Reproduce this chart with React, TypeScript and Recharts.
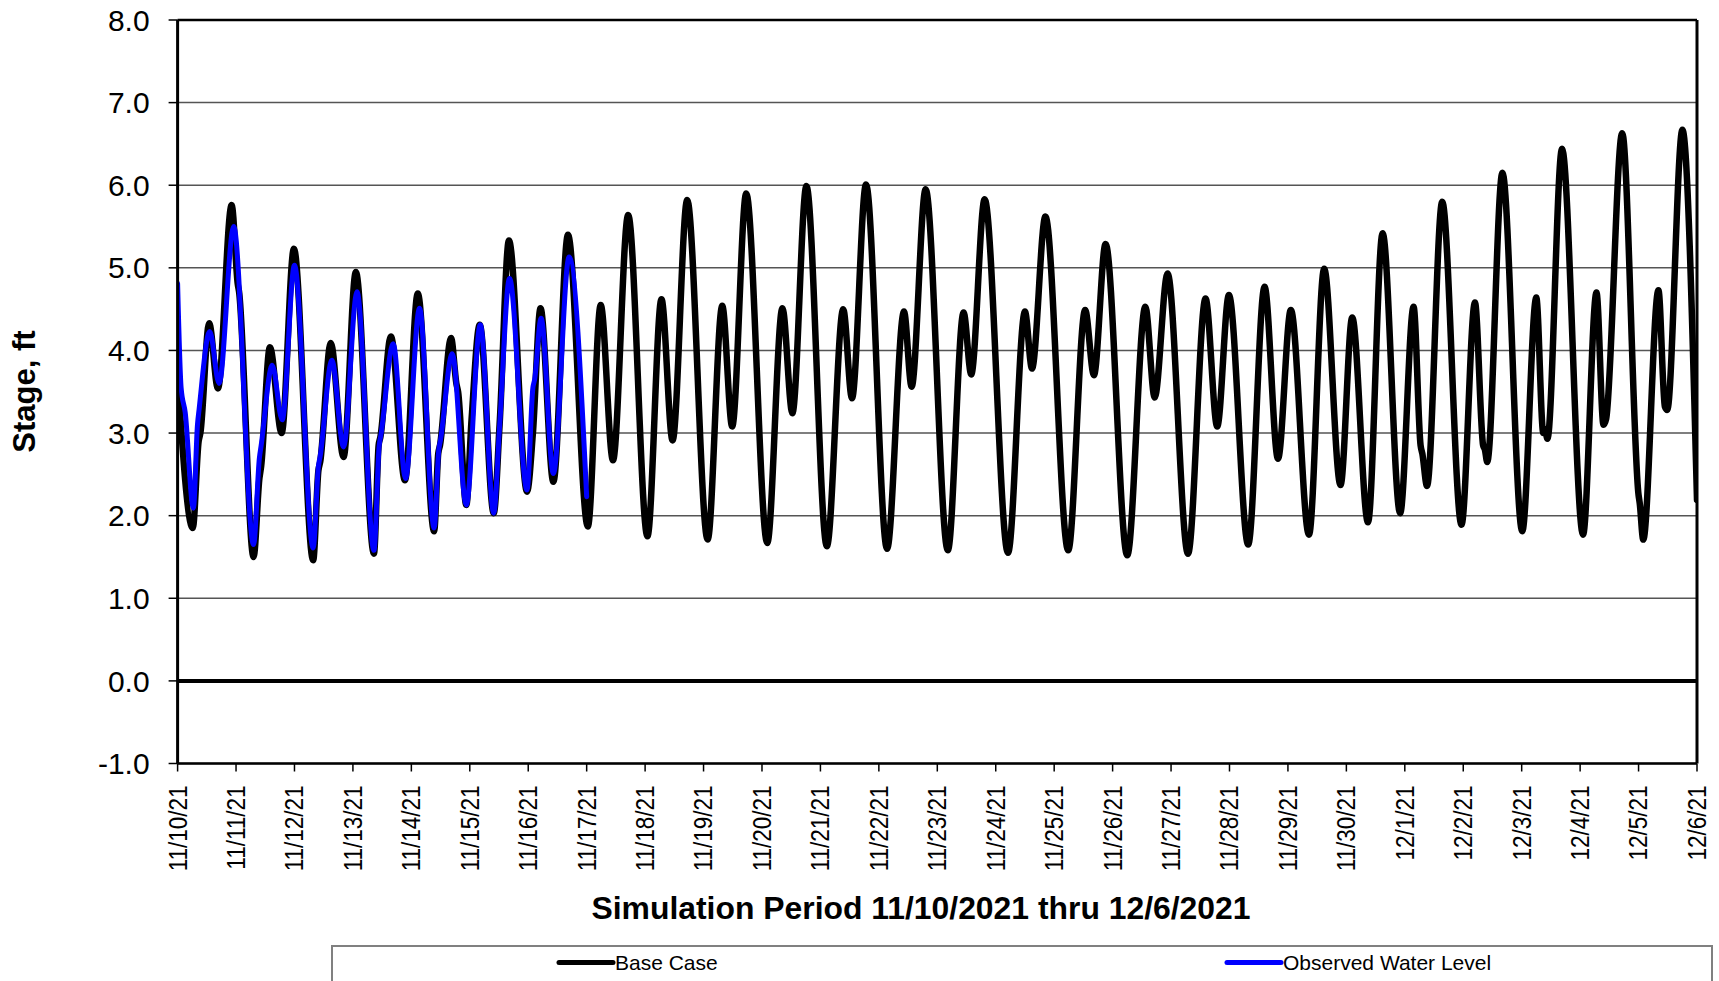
import React from 'react';
import { LineChart, Line, XAxis, YAxis, CartesianGrid, ReferenceLine } from 'recharts';

if (typeof document !== 'undefined') {
  document.body.style.margin = '0';
  document.body.style.overflow = 'hidden';
}

const FONT = '"Liberation Sans", Arial, Helvetica, sans-serif';

// x-axis tick labels (one per day, 11/10/21 .. 12/6/21)
const dateLabels = [
  '11/10/21', '11/11/21', '11/12/21', '11/13/21', '11/14/21', '11/15/21', '11/16/21',
  '11/17/21', '11/18/21', '11/19/21', '11/20/21', '11/21/21', '11/22/21', '11/23/21',
  '11/24/21', '11/25/21', '11/26/21', '11/27/21', '11/28/21', '11/29/21', '11/30/21',
  '12/1/21', '12/2/21', '12/3/21', '12/4/21', '12/5/21', '12/6/21',
];

const stageTicks = [-1, 0, 1, 2, 3, 4, 5, 6, 7, 8];

// [day since 11/10/21, stage ft]
const baseCasePoints: [number, number][] = [
  [0.0, 3.7], [0.26, 1.85], [0.36, 2.9], [0.39, 3.0], [0.54, 4.33], [0.69, 3.54], [0.925, 5.76],
  [1.03, 4.8], [1.05, 4.72], [1.3, 1.5], [1.4, 2.45], [1.43, 2.6], [1.58, 4.04], [1.78, 3.0],
  [1.99, 5.23], [2.32, 1.46], [2.41, 2.55], [2.44, 2.65], [2.62, 4.09], [2.84, 2.71], [3.05, 4.95],
  [3.36, 1.54], [3.44, 2.85], [3.47, 2.95], [3.65, 4.17], [3.89, 2.43], [4.11, 4.69], [4.39, 1.81],
  [4.46, 2.75], [4.49, 2.85], [4.68, 4.15], [4.77, 3.6], [4.8, 3.5], [4.94, 2.13], [5.03, 3.16],
  [5.17, 4.31], [5.41, 2.03], [5.51, 3.1], [5.67, 5.33], [5.98, 2.29], [6.08, 3.0], [6.21, 4.51],
  [6.43, 2.41], [6.68, 5.4], [7.02, 1.87],
  [7.24, 4.55], [7.45, 2.67], [7.71, 5.64], [8.04, 1.75], [8.28, 4.62], [8.47, 2.91], [8.72, 5.82],
  [9.07, 1.71], [9.32, 4.54], [9.49, 3.08], [9.73, 5.9], [10.09, 1.67], [10.35, 4.51], [10.52, 3.24],
  [10.76, 5.99], [11.11, 1.63], [11.39, 4.5], [11.54, 3.42], [11.78, 6.01], [12.14, 1.6], [12.43, 4.47],
  [12.56, 3.56], [12.8, 5.95], [13.18, 1.58], [13.45, 4.46], [13.58, 3.71], [13.81, 5.83],
  [14.21, 1.55], [14.5, 4.47], [14.62, 3.78], [14.85, 5.62], [15.24, 1.58], [15.53, 4.49], [15.68, 3.7],
  [15.88, 5.29], [16.25, 1.52], [16.56, 4.53], [16.72, 3.43], [16.94, 4.93], [17.29, 1.54], [17.59, 4.63],
  [17.79, 3.08], [17.99, 4.67], [18.32, 1.65], [18.6, 4.77], [18.83, 2.69], [19.05, 4.49], [19.36, 1.77],
  [19.62, 4.99], [19.9, 2.37], [20.1, 4.4], [20.37, 1.92],
  [20.62, 5.42], [20.92, 2.03], [21.15, 4.53], [21.27, 2.85], [21.3, 2.75], [21.38, 2.36], [21.64, 5.8],
  [21.97, 1.89], [22.2, 4.58], [22.34, 2.85], [22.37, 2.8], [22.41, 2.65], [22.67, 6.15], [23.01, 1.81],
  [23.25, 4.64], [23.37, 3.0], [23.4, 3.05], [23.44, 2.93], [23.69, 6.44], [24.05, 1.77], [24.28, 4.7],
  [24.4, 3.1], [24.445, 3.17], [24.72, 6.63], [25.0, 2.25], [25.02, 2.15], [25.08, 1.71], [25.34, 4.73],
  [25.45, 3.32], [25.49, 3.28], [25.75, 6.67], [26.0, 2.19],
];

const observedPoints: [number, number][] = [
  [0.0, 4.81], [0.06, 3.55], [0.13, 3.25], [0.27, 2.09], [0.34, 3.1], [0.37, 3.3], [0.55, 4.23],
  [0.71, 3.6], [0.96, 5.5], [1.3, 1.65], [1.4, 2.7], [1.43, 2.85], [1.62, 3.82], [1.79, 3.16],
  [2.0, 5.03], [2.32, 1.61], [2.41, 2.6], [2.44, 2.72], [2.64, 3.88], [2.84, 2.83], [3.07, 4.71],
  [3.36, 1.58], [3.45, 2.85], [3.48, 2.98], [3.69, 4.08], [3.9, 2.45], [4.14, 4.51], [4.39, 1.85],
  [4.47, 2.8], [4.5, 2.92], [4.7, 3.96], [4.94, 2.13], [5.18, 4.31], [5.41, 2.03], [5.51, 3.08],
  [5.68, 4.87], [5.98, 2.31], [6.08, 3.55], [6.11, 3.65], [6.22, 4.39], [6.43, 2.51], [6.7, 5.13],
  [7.0, 2.23],
];

const baseCase = baseCasePoints.map(([d, v]) => ({ d, v }));
const observed = observedPoints.map(([d, v]) => ({ d, v }));
const dayTicks = dateLabels.map((_, i) => i);

const XTick = (props: any) => {
  const { x, y, payload } = props;
  return (
    <text
      transform={`translate(${x},${y}) rotate(-90) scale(0.9,1)`}
      textAnchor="end"
      dominantBaseline="central"
      fontSize={25}
      fontFamily={FONT}
      fill="#000"
    >
      {dateLabels[payload.value]}
    </text>
  );
};

const XTitle = () => (
  <text x={921} y={908} textAnchor="middle" dominantBaseline="central" fontSize={31} fontWeight="bold" fontFamily={FONT} fill="#000"
    textLength={659} lengthAdjust="spacingAndGlyphs">
    Simulation Period 11/10/2021 thru 12/6/2021
  </text>
);

const YTitle = () => (
  <text x={25} y={391.6} transform="rotate(-90 25 391.6)" textAnchor="middle" dominantBaseline="central" fontSize={31} fontWeight="bold" fontFamily={FONT} fill="#000">
    Stage, ft
  </text>
);

export default function App() {
  return (
    <div style={{ position: 'relative', width: 1719, height: 981, background: '#fff', overflow: 'hidden' }}>
      <LineChart width={1719} height={981} margin={{ top: 20, right: 22, left: 0, bottom: 0 }}>
        <CartesianGrid vertical={false} stroke="#555" strokeWidth={1.5} />
        <XAxis
          dataKey="d"
          type="number"
          domain={[0, 26]}
          ticks={dayTicks}
          interval={0}
          height={217.5}
          tickSize={8}
          tickMargin={14}
          tick={<XTick />}
          axisLine={{ stroke: '#000', strokeWidth: 2.5 }}
          tickLine={{ stroke: '#000', strokeWidth: 1.5 }}
          label={<XTitle />}
          allowDataOverflow
        />
        <YAxis
          type="number"
          domain={[-1, 8]}
          ticks={stageTicks}
          interval={0}
          width={177.6}
          tickSize={9}
          tickMargin={19}
          tickFormatter={(v: number) => v.toFixed(1)}
          tick={{ fontSize: 30, fill: '#000', fontFamily: FONT }}
          axisLine={{ stroke: '#000', strokeWidth: 3 }}
          tickLine={{ stroke: '#000', strokeWidth: 1.5 }}
          label={<YTitle />}
          allowDataOverflow
        />
        <ReferenceLine y={8} stroke="#000" strokeWidth={2.5} />
        <ReferenceLine x={26} stroke="#000" strokeWidth={3} />
        <ReferenceLine y={0} stroke="#000" strokeWidth={4} />
        <Line
          data={baseCase}
          dataKey="v"
          name="Base Case"
          type="monotone"
          stroke="#000"
          strokeWidth={6.5}
          dot={false}
          strokeLinejoin="round"
          strokeLinecap="round"
          isAnimationActive={false}
        />
        <Line
          data={observed}
          dataKey="v"
          name="Observed Water Level"
          type="monotone"
          stroke="#0000FF"
          strokeWidth={5}
          dot={false}
          strokeLinejoin="round"
          strokeLinecap="round"
          isAnimationActive={false}
        />
      </LineChart>
      <svg width={1382} height={40} style={{ position: 'absolute', left: 331, top: 945 }}>
        <rect x={1} y={1} width={1380} height={60} fill="#fff" stroke="#808080" strokeWidth={2} />
        <line x1={228} y1={17.5} x2={282} y2={17.5} stroke="#000" strokeWidth={5} strokeLinecap="round" />
        <text x={284} y={17.5} dominantBaseline="central" fontSize={21} fontFamily={FONT} fill="#000">Base Case</text>
        <line x1={896} y1={17.5} x2={950} y2={17.5} stroke="#0000FF" strokeWidth={5} strokeLinecap="round" />
        <text x={952} y={17.5} dominantBaseline="central" fontSize={21} fontFamily={FONT} fill="#000">Observed Water Level</text>
      </svg>
    </div>
  );
}
